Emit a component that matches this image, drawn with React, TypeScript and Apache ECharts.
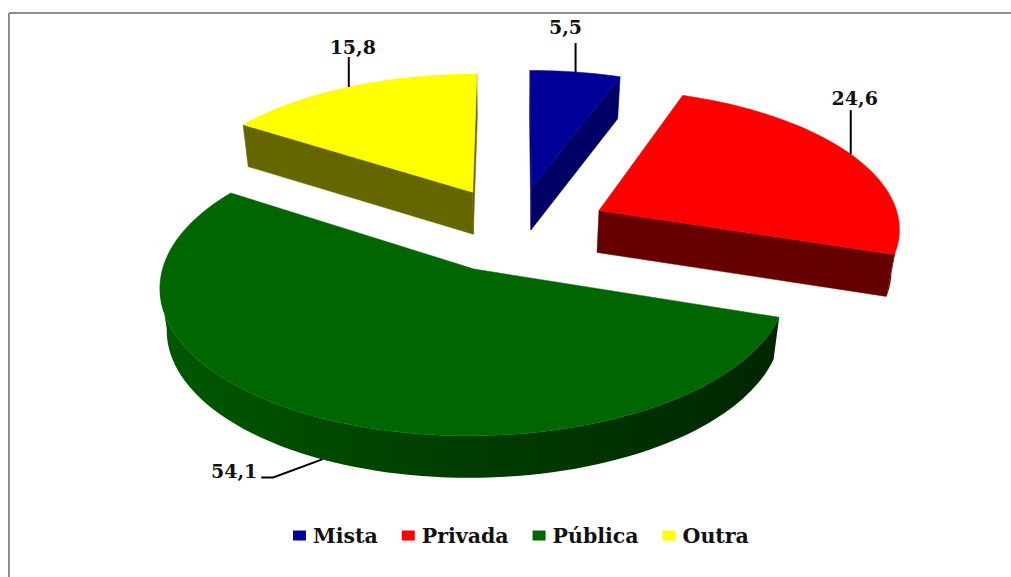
import React, { useEffect, useRef } from "react";
import * as echarts from "echarts";

const names = ["Mista", "Privada", "Pública", "Outra"];
const values = [5.5, 24.6, 54.1, 15.8];
const topColors = ["#000099", "#ff0000", "#006600", "#ffff00"];
const sideColors = ["#000066", "#660000", "#004000", "#666600"];
// draw order: back slices first
const drawOrder = [3, 0, 1, 2];
// leader line end relative to the anchor on the slice, and label offset from it
const leaders: number[][][] = [
  [[0, -29]],
  [[0, -44]],
  [[-49, 18], [-61, 18]],
  [[0, -30]],
];
const labelOffsets = [[-10, -45], [4, -56], [-88, 12], [4, -40]];

const CX = 516, CY = 229, R = 302, TILT = 0.46, PERSP = 0.11, EXPLODE = 0.31, DEPTH = 42;
const total = values.reduce((a, b) => a + b, 0);

function project(X: number, Y: number) {
  const f = 1 / (1 + PERSP * Y);
  return [CX + R * X * f, CY - R * TILT * Y * f];
}
function lower(p: number[]) {
  return [500 + (p[0] - 500) * 0.98, p[1] + DEPTH];
}
function sliceRange(i: number) {
  const start = values.slice(0, i).reduce((a, b) => a + b, 0);
  return [(start / total) * 2 * Math.PI, ((start + values[i]) / total) * 2 * Math.PI];
}
function rimPoint(i: number, a: number) {
  const [a0, a1] = sliceRange(i);
  const m = (a0 + a1) / 2;
  return project(EXPLODE * Math.sin(m) + Math.sin(a), EXPLODE * Math.cos(m) + Math.cos(a));
}
function apexPoint(i: number) {
  const [a0, a1] = sliceRange(i);
  const m = (a0 + a1) / 2;
  return project(EXPLODE * Math.sin(m), EXPLODE * Math.cos(m));
}

function renderSlice(i: number) {
  return (_params: any, api: any) => {
    const value = api.value(0);
    const [a0, a1] = sliceRange(i);
    const steps = Math.max(4, Math.ceil(((a1 - a0) * 180) / Math.PI / 2));
    const outline: number[][] = [apexPoint(i)];
    for (let s = 0; s <= steps; s++) outline.push(rimPoint(i, a0 + ((a1 - a0) * s) / steps));
    const children: any[] = [];
    const n = outline.length;
    const rimTop: number[][] = [];
    for (let k = 0; k < n; k++) {
      const a = outline[k], b = outline[(k + 1) % n];
      if (b[0] - a[0] < 0) {
        const isRim = k > 0 && k < n - 1;
        if (isRim) {
          if (!rimTop.length) rimTop.push(a);
          rimTop.push(b);
        } else {
          children.push({
            type: "polygon",
            shape: { points: [a, b, lower(b), lower(a)] },
            style: { fill: sideColors[i], stroke: sideColors[i], lineWidth: 0.5 },
          });
        }
      }
    }
    if (rimTop.length) {
      const fill: any =
        i === 2
          ? new echarts.graphic.LinearGradient(0, 0, 1, 0, [
              { offset: 0, color: "#005800" },
              { offset: 0.5, color: "#003c00" },
              { offset: 1, color: "#002600" },
            ])
          : sideColors[i];
      children.push({
        type: "polygon",
        shape: { points: [...rimTop, ...rimTop.slice().reverse().map(lower)] },
        style: { fill },
      });
    }
    children.push({
      type: "polygon",
      shape: { points: outline },
      style: { fill: topColors[i], stroke: topColors[i], lineWidth: 0.5 },
    });
    const mid = (a0 + a1) / 2;
    let anchor = rimPoint(i, mid);
    if (i === 2) anchor = lower(anchor);
    const pts = [anchor, ...leaders[i].map((d) => [anchor[0] + d[0], anchor[1] + d[1]])];
    children.push({
      type: "polyline",
      shape: { points: pts },
      style: { fill: "none", stroke: "#000", lineWidth: 2 },
    });
    children.push({
      type: "text",
      style: {
        x: anchor[0] + labelOffsets[i][0],
        y: anchor[1] + labelOffsets[i][1],
        text: value.toFixed(1).replace(".", ","),
        fill: "#111",
        font: 'bold 19px "DejaVu Serif"',
        align: "center",
        verticalAlign: "middle",
      },
    });
    return { type: "group", children };
  };
}

export default function App() {
  const ref = useRef<HTMLDivElement>(null);
  useEffect(() => {
    document.body.style.margin = "0";
    const chart = echarts.init(ref.current!, null, { renderer: "svg" });
    chart.setOption({
      animation: false,
      backgroundColor: "#fff",
      legend: {
        data: names,
        left: 288,
        top: 520,
        itemWidth: 13,
        itemHeight: 10,
        itemGap: 24,
        icon: "rect",
        textStyle: { fontFamily: "DejaVu Serif", fontWeight: "bold", fontSize: 20.5, color: "#111", padding: [0, 0, 0, 2] },
      },
      graphic: [
        { type: "line", shape: { x1: 9, y1: 13, x2: 1011, y2: 13 }, style: { stroke: "#8c8c8c", lineWidth: 2 }, silent: true },
        { type: "line", shape: { x1: 9, y1: 13, x2: 9, y2: 577 }, style: { stroke: "#8c8c8c", lineWidth: 2 }, silent: true },
      ],
      series: drawOrder.map((i) => ({
        type: "custom",
        name: names[i],
        coordinateSystem: "none",
        itemStyle: { color: topColors[i] },
        renderItem: renderSlice(i),
        data: [[values[i]]],
        silent: true,
      })),
    });
    return () => chart.dispose();
  }, []);
  return <div ref={ref} style={{ width: 1011, height: 577 }} />;
}
